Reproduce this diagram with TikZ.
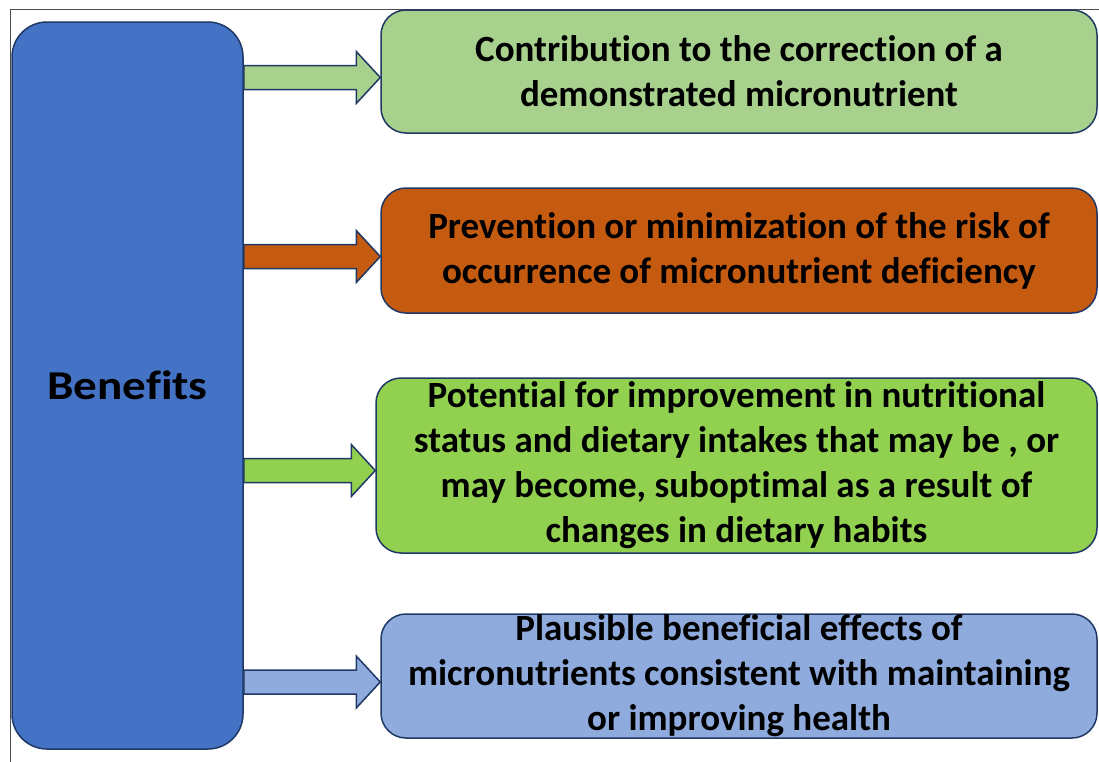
\documentclass[tikz,border=0pt]{standalone}
\usepackage{fontspec}
\setmainfont{Carlito}[Ligatures=NoCommon]
\newfontfamily\benfont{Carlito}[Ligatures=NoCommon, FakeStretch=1.15]
\usetikzlibrary{calc}
\definecolor{benblue}{HTML}{4472C4}
\definecolor{corrgreen}{HTML}{A9D18E}
\definecolor{prevorange}{HTML}{C55A11}
\definecolor{potgreen}{HTML}{92D050}
\definecolor{plausblue}{HTML}{8FAADC}
\definecolor{edgenavy}{HTML}{1F3864}
\tikzset{
  benbox/.style={draw=edgenavy, line width=1.5pt, rounded corners=25pt, align=center,
    inner sep=0pt, font=\fontsize{37}{45}\selectfont\bfseries},
  arrowline/.style={draw=edgenavy, line width=1.5pt, line join=miter}
}
% block arrow from the left block to a target node: #1 target, #2 fill, #3 y offset
\newcommand{\benarrow}[3]{%
  \draw[arrowline, fill=#2] let \p1=(ben.east), \p2=([yshift=#3]#1.west) in
    (\x1,\y2+12pt) -- (\x2-24pt,\y2+12pt) -- (\x2-24pt,\y2+26pt) -- (\x2,\y2)
    -- (\x2-24pt,\y2-26pt) -- (\x2-24pt,\y2-12pt) -- (\x1,\y2-12pt) -- cycle;}
\begin{document}
\begin{tikzpicture}[x=1pt,y=-1pt]
    \useasboundingbox (0,0) rectangle (1099,761);
    \clip (0,0) rectangle (1099,761);
    % frame
    \draw[gray!60!black, line width=1pt] (10,9) rectangle (1130,790);

    % left block
    \node[benbox, fill=benblue, rounded corners=35pt, minimum width=231pt, minimum height=727pt,
      font=\fontsize{41}{45}\selectfont\benfont\bfseries] (ben) at (127.5,385.5) {Benefits};

    % right boxes
    \node[benbox, fill=corrgreen, minimum width=716pt, minimum height=123pt] (corr) at (739,71.5)
      {Contribution to the correction of a\\demonstrated micronutrient};
    \node[benbox, fill=prevorange, minimum width=716pt, minimum height=125pt] (prev) at (739,250.5)
      {Prevention or minimization of the risk of\\occurrence of micronutrient deficiency};
    \node[benbox, fill=potgreen, minimum width=721pt, minimum height=175pt] (pot) at (736.5,465.5)
      {Potential for improvement in nutritional\\status and dietary intakes that may be , or\\may become, suboptimal as a result of\\changes in dietary habits};
    \node[benbox, fill=plausblue, minimum width=716pt, minimum height=124pt] (plaus) at (739,676)
      {Plausible beneficial effects of\\micronutrients consistent with maintaining\\or improving health};

    % arrows
    \benarrow{corr}{corrgreen}{-6pt}
    \benarrow{prev}{prevorange}{-6pt}
    \benarrow{pot}{potgreen}{-5pt}
    \benarrow{plaus}{plausblue}{-6pt}
\end{tikzpicture}
\end{document}
